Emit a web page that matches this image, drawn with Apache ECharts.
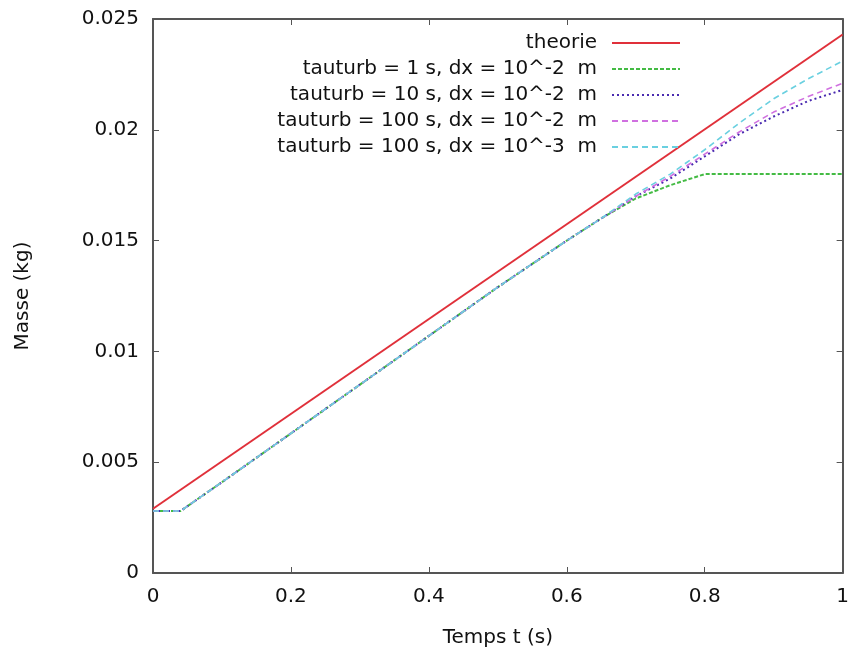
<!DOCTYPE html>
<html>
<head>
<meta charset="utf-8">
<script src="https://cdn.jsdelivr.net/npm/echarts@6/dist/echarts.min.js"></script>
<style>
  html, body { margin: 0; padding: 0; background: #fff; }
  #chart { width: 852px; height: 654px; }
</style>
</head>
<body>
<div id="chart"></div>
<script>
// ---- data ----
const seriesNames = [
  'theorie',
  'tauturb = 1 s, dx = 10^-2  m',
  'tauturb = 10 s, dx = 10^-2  m',
  'tauturb = 100 s, dx = 10^-2  m',
  'tauturb = 100 s, dx = 10^-3  m'
];
const timeTheory = [0, 1];
const massTheory = [0.0029, 0.0243];

const timeSim   = [0, 0.04, 0.1, 0.2, 0.3, 0.4, 0.5, 0.6, 0.65, 0.7, 0.75, 0.8, 0.85, 0.9, 0.95, 1.0];
const massTau1   = [0.0028, 0.0028, 0.0041, 0.0063, 0.0085, 0.0107, 0.0129, 0.0150, 0.0160, 0.0169, 0.0175, 0.0180, 0.0180, 0.0180, 0.0180, 0.0180];
const massTau10  = [0.0028, 0.0028, 0.0041, 0.0063, 0.0085, 0.0107, 0.0129, 0.0150, 0.0160, 0.0170, 0.0178, 0.0188, 0.0198, 0.0206, 0.0213, 0.0218];
const massTau100 = [0.0028, 0.0028, 0.0041, 0.0063, 0.0085, 0.0107, 0.0129, 0.0150, 0.0160, 0.0170, 0.0179, 0.0189, 0.0199, 0.0208, 0.0215, 0.0221];
const massTau100Fine = [0.0028, 0.0028, 0.0041, 0.0063, 0.0085, 0.0107, 0.0129, 0.0150, 0.0160, 0.0171, 0.0180, 0.0191, 0.0203, 0.0214, 0.0223, 0.0231];

const xTicks = { min: 0, max: 1, interval: 0.2 };
const yTicks = { min: 0, max: 0.025, interval: 0.005 };

// ---- build ----
function pairs(xs, ys) { return xs.map((x, i) => [x, ys[i]]); }

const FONT = 'DejaVu Sans';
const frameColor = '#555';
const chart = echarts.init(document.getElementById('chart'), null, { renderer: 'canvas' });

const fmt = v => String(+(+v).toFixed(4));

function lineSeries(name, data, color, type, width) {
  return {
    name, type: 'line', data, symbol: 'none', smooth: false, animation: false,
    lineStyle: { color, type, width },
    itemStyle: { color }
  };
}

chart.setOption({
  backgroundColor: '#fff',
  animation: false,
  grid: { left: 153, right: 9, top: 19, bottom: 81, containLabel: false },
  legend: {
    orient: 'vertical',
    right: 166,
    top: 28,
    align: 'right',
    itemWidth: 68,
    itemHeight: 14,
    itemGap: 6,
    itemStyle: { opacity: 0, borderWidth: 0 },
    textStyle: { fontFamily: FONT, fontSize: 20, color: '#111', lineHeight: 20, padding: [0, 10, 0, 0] },
    data: seriesNames
  },
  xAxis: [
    {
      type: 'value', min: xTicks.min, max: xTicks.max, interval: xTicks.interval,
      name: 'Temps t (s)', nameLocation: 'middle', nameGap: 55,
      nameTextStyle: { fontFamily: FONT, fontSize: 20, color: '#111' },
      axisLine: { show: true, onZero: false, lineStyle: { color: frameColor, width: 2 } },
      axisTick: { show: true, inside: true, length: 6, lineStyle: { color: frameColor, width: 1 } },
      axisLabel: { fontFamily: FONT, fontSize: 20, color: '#111', margin: 14, formatter: fmt },
      splitLine: { show: false }
    },
    {
      type: 'value', position: 'top', min: xTicks.min, max: xTicks.max, interval: xTicks.interval,
      axisLine: { show: true, onZero: false, lineStyle: { color: frameColor, width: 2 } },
      axisTick: { show: true, inside: true, length: 6, lineStyle: { color: frameColor, width: 1 } },
      axisLabel: { show: false }, splitLine: { show: false }
    }
  ],
  yAxis: [
    {
      type: 'value', min: yTicks.min, max: yTicks.max, interval: yTicks.interval,
      name: 'Masse (kg)', nameLocation: 'middle', nameGap: 120, nameRotate: 90,
      nameTextStyle: { fontFamily: FONT, fontSize: 20, color: '#111' },
      axisLine: { show: true, onZero: false, lineStyle: { color: frameColor, width: 2 } },
      axisTick: { show: true, inside: true, length: 6, lineStyle: { color: frameColor, width: 1 } },
      axisLabel: { fontFamily: FONT, fontSize: 20, color: '#111', margin: 14, formatter: fmt },
      splitLine: { show: false }
    },
    {
      type: 'value', position: 'right', min: yTicks.min, max: yTicks.max, interval: yTicks.interval,
      axisLine: { show: true, onZero: false, lineStyle: { color: frameColor, width: 2 } },
      axisTick: { show: true, inside: true, length: 6, lineStyle: { color: frameColor, width: 1 } },
      axisLabel: { show: false }, splitLine: { show: false }
    }
  ],
  series: [
    lineSeries(seriesNames[0], pairs(timeTheory, massTheory), '#e0303a', 'solid', 2),
    lineSeries(seriesNames[1], pairs(timeSim, massTau1), '#44bb44', [4, 2], 2),
    lineSeries(seriesNames[2], pairs(timeSim, massTau10), '#4a2bb0', [2, 3], 2),
    lineSeries(seriesNames[3], pairs(timeSim, massTau100), '#d070e0', [6, 4], 1.6),
    lineSeries(seriesNames[4], pairs(timeSim, massTau100Fine), '#6ad0e0', [6, 4], 1.6)
  ]
});
</script>
</body>
</html>
